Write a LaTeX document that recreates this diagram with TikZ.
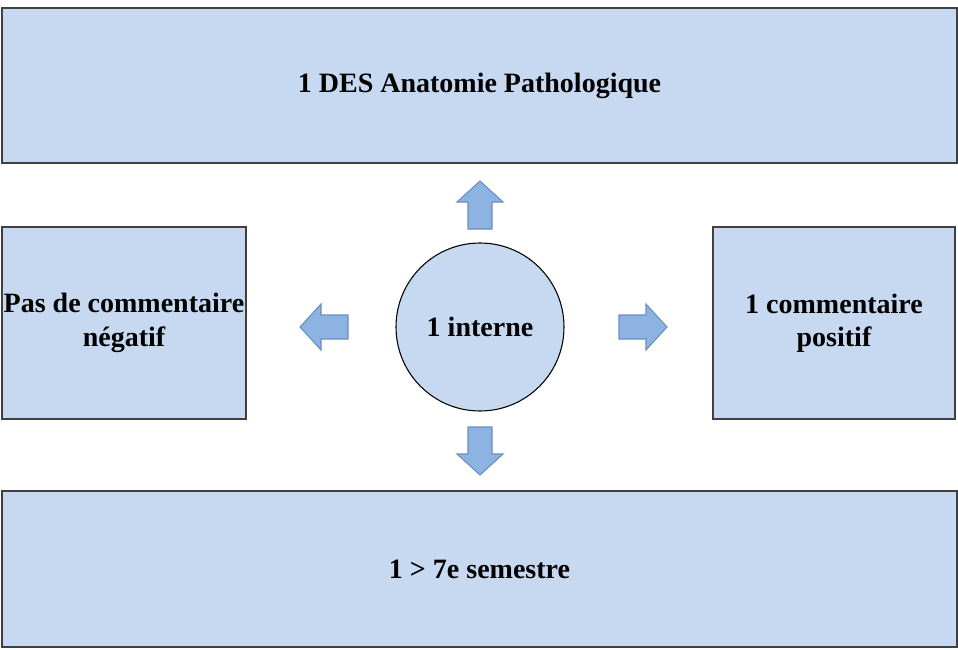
\documentclass[tikz,border=0pt]{standalone}
\usepackage{fontspec}
\setmainfont{Liberation Serif}
\usepackage{tikz}
\usetikzlibrary{positioning}
\definecolor{boxfill}{HTML}{C6D9F1}
\definecolor{boxline}{HTML}{404040}
\definecolor{arrowfill}{HTML}{8DB3E2}
\definecolor{arrowline}{HTML}{6C8EBF}
\tikzset{
  panel/.style={draw=boxline,fill=boxfill,line width=1.1pt,align=center,
    font=\bfseries\fontsize{21}{25}\selectfont,inner sep=0pt},
  hub/.style={panel,circle,draw=black,line width=0.8pt},
  blockarrow/.pic={
    \draw[arrowline,fill=arrowfill,line width=0.8pt,line join=miter]
      (0,0) -- (-21,-23) -- (-21,-12) -- (-48,-12) -- (-48,12) -- (-21,12) -- (-21,23) -- cycle;
  }
}
\begin{document}
\begin{tikzpicture}[x=0.75pt,y=-0.75pt]
  \useasboundingbox (0,0) rectangle (958,650);

  % --- boxes ---
  \node[panel,minimum width=955*0.75pt,minimum height=155*0.75pt] (des) at (479.5,85.5) {1 DES Anatomie Pathologique};
  \node[panel,minimum width=955*0.75pt,minimum height=156*0.75pt] (sem) at (479.5,569) {1 > 7e semestre};
  \node[panel,minimum width=244*0.75pt,minimum height=192*0.75pt] (neg) at (124,323) {Pas de commentaire\\négatif};
  \node[panel,minimum width=242*0.75pt,minimum height=192*0.75pt] (pos) at (834,323) {1 commentaire\\positif};

  % --- centre ---
  \node[hub,minimum size=168*0.75pt] (interne) at (480,327) {1 interne};

  % --- block arrows ---
  \path (480,181) pic[rotate=90] {blockarrow};
  \path (480,475) pic[rotate=-90] {blockarrow};
  \path (300,327) pic[rotate=180] {blockarrow};
  \path (667,327) pic {blockarrow};
\end{tikzpicture}
\end{document}
